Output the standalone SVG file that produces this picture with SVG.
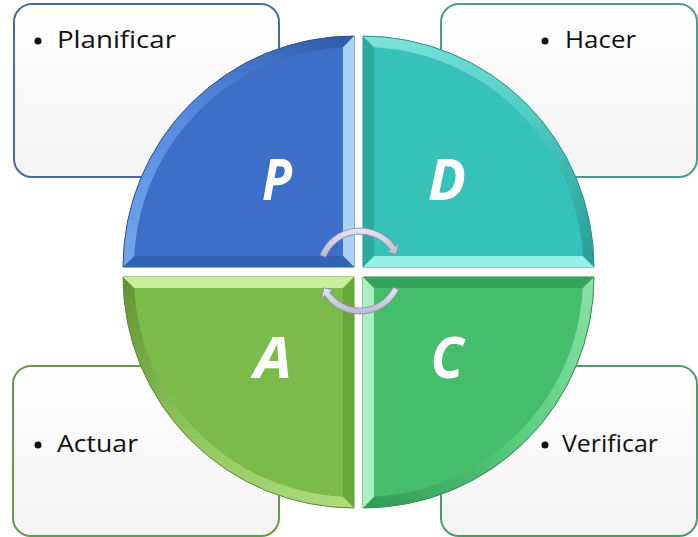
<svg xmlns="http://www.w3.org/2000/svg" width="698" height="537" viewBox="0 0 698 537">
  <style>
    .box { stroke-width: 2; fill: url(#boxFill); }
    .label { font-family: "Open Sans", "Liberation Sans", sans-serif; font-size: 24px; fill: #111; }
    .bullet { fill: #111; }
    .letter { font-family: "Open Sans", "Liberation Sans", sans-serif; font-size: 58px; font-weight: bold; font-style: italic; fill: #fff; text-anchor: middle; }
    .arrow { fill: url(#arrowFill); stroke: #9494ae; stroke-width: 1; }
  </style>
  <defs>
    <linearGradient id="boxFill" x1="0" y1="0" x2="0" y2="1">
      <stop offset="0" stop-color="#ffffff"/>
      <stop offset="1" stop-color="#f3f3f3"/>
    </linearGradient>
    <linearGradient id="arrowFill" x1="0" y1="0" x2="0" y2="1">
      <stop offset="0" stop-color="#e6e6f0"/>
      <stop offset="1" stop-color="#babad0"/>
    </linearGradient>
    <!-- arc bevel gradients, in the local frame of one quadrant -->
    <linearGradient id="arcP" gradientUnits="userSpaceOnUse" x1="-231" y1="0" x2="0" y2="-231">
      <stop offset="0" stop-color="#74a6ee"/>
      <stop offset="0.5" stop-color="#5288dc"/>
      <stop offset="1" stop-color="#2e5aa8"/>
    </linearGradient>
    <linearGradient id="arcD" gradientUnits="userSpaceOnUse" x1="-231" y1="0" x2="0" y2="-231">
      <stop offset="0" stop-color="#80e4dc"/>
      <stop offset="0.5" stop-color="#52d0c6"/>
      <stop offset="1" stop-color="#279c94"/>
    </linearGradient>
    <linearGradient id="arcC" gradientUnits="userSpaceOnUse" x1="-231" y1="0" x2="0" y2="-231">
      <stop offset="0" stop-color="#88e2a4"/>
      <stop offset="0.5" stop-color="#5cce80"/>
      <stop offset="1" stop-color="#2f9a52"/>
    </linearGradient>
    <linearGradient id="arcA" gradientUnits="userSpaceOnUse" x1="-231" y1="0" x2="0" y2="-231">
      <stop offset="0" stop-color="#b0dc80"/>
      <stop offset="0.5" stop-color="#92c85e"/>
      <stop offset="1" stop-color="#5c9432"/>
    </linearGradient>
    <!-- one bevelled quarter disc, corner at the origin -->
    <path id="qOuter" d="M0,0 L-231,0 A231,231 0 0 1 0,-231 Z"/>
    <path id="qRight" d="M0,0 L0,-231 L-11,-219.72 L-11,-11 Z"/>
    <path id="qBottom" d="M0,0 L-231,0 L-219.72,-11 L-11,-11 Z"/>
    <path id="qInner" d="M-11,-11 L-219.72,-11 A220,220 0 0 1 -11,-219.72 Z"/>
  </defs>

  <!-- text boxes -->
  <g id="box-planificar">
    <rect class="box" x="14" y="4" width="265" height="173" rx="18" stroke="#4a69a4"/>
    <circle class="bullet" cx="38" cy="41" r="3.5"/>
    <text class="label" x="57" y="48" textLength="119" lengthAdjust="spacingAndGlyphs">Planificar</text>
  </g>
  <g id="box-hacer">
    <rect class="box" x="441" y="4" width="256" height="173" rx="18" stroke="#4b9a92"/>
    <circle class="bullet" cx="545" cy="41" r="3.5"/>
    <text class="label" x="565" y="48" textLength="71" lengthAdjust="spacingAndGlyphs">Hacer</text>
  </g>
  <g id="box-actuar">
    <rect class="box" x="13" y="366" width="266" height="170" rx="18" stroke="#6a9a44"/>
    <circle class="bullet" cx="38" cy="445" r="3.5"/>
    <text class="label" x="57" y="452" textLength="81" lengthAdjust="spacingAndGlyphs">Actuar</text>
  </g>
  <g id="box-verificar">
    <rect class="box" x="441" y="366" width="256" height="170" rx="18" stroke="#4d9c68"/>
    <circle class="bullet" cx="545" cy="445" r="3.5"/>
    <text class="label" x="562" y="452" textLength="96" lengthAdjust="spacingAndGlyphs">Verificar</text>
  </g>

  <!-- quarter discs -->
  <g id="quad-p">
    <g transform="translate(354,267)">
      <use href="#qOuter" fill="url(#arcP)" stroke="#2b4e93" stroke-width="1"/>
      <use href="#qRight" fill="#a9d2f6"/>
      <use href="#qBottom" fill="#3262b4"/>
      <use href="#qInner" fill="#3e6fc8"/>
    </g>
    <text class="letter" x="277" y="200" textLength="30" lengthAdjust="spacingAndGlyphs">P</text>
  </g>
  <g id="quad-d">
    <g transform="translate(363,267) rotate(90)">
      <use href="#qOuter" fill="url(#arcD)" stroke="#2a8c86" stroke-width="1"/>
      <use href="#qRight" fill="#92f0e8"/>
      <use href="#qBottom" fill="#2caa9f"/>
      <use href="#qInner" fill="#36c2b8"/>
    </g>
    <text class="letter" x="447" y="200" textLength="38" lengthAdjust="spacingAndGlyphs">D</text>
  </g>
  <g id="quad-c">
    <g transform="translate(363,277) rotate(180)">
      <use href="#qOuter" fill="url(#arcC)" stroke="#2f8a4c" stroke-width="1"/>
      <use href="#qRight" fill="#a8f2c2"/>
      <use href="#qBottom" fill="#37a459"/>
      <use href="#qInner" fill="#45bd6b"/>
    </g>
    <text class="letter" x="447" y="378" textLength="33" lengthAdjust="spacingAndGlyphs">C</text>
  </g>
  <g id="quad-a">
    <g transform="translate(354,277) rotate(270)">
      <use href="#qOuter" fill="url(#arcA)" stroke="#5a8a30" stroke-width="1"/>
      <use href="#qRight" fill="#cbee9c"/>
      <use href="#qBottom" fill="#69a63b"/>
      <use href="#qInner" fill="#7bbb4a"/>
    </g>
    <text class="letter" x="273" y="378" textLength="38" lengthAdjust="spacingAndGlyphs">A</text>
  </g>

  <!-- cycle arrows -->
  <g id="connectors">
    <path class="arrow" d="M320.13,254.89 A43,43 0 0 1 395.23,246.34 L398.5,244.04 L396.25,254.1 L387.03,252.07 L390.31,249.78 A37,37 0 0 0 325.69,257.14 Z"/>
    <path class="arrow" d="M398.65,289.85 A43,43 0 0 1 324.77,295.66 L321.5,297.96 L323.75,287.9 L332.97,289.93 L329.69,292.22 A37,37 0 0 0 393.26,287.22 Z"/>
  </g>
</svg>
